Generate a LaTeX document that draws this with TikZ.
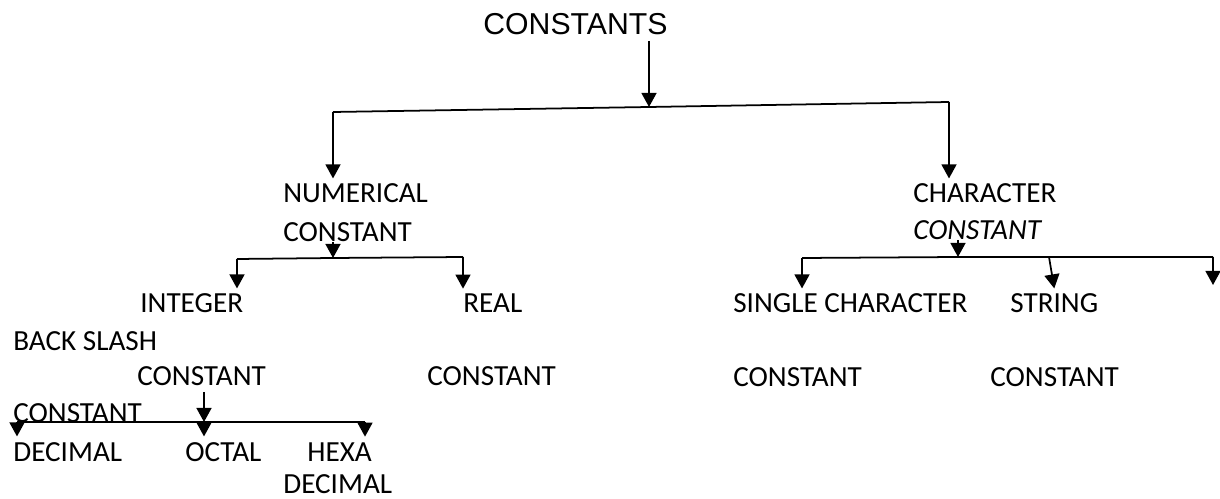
\documentclass[tikz,border=0pt]{standalone}
\usepackage{fontspec}
\setmainfont{Carlito}
\newfontfamily\titlefont{Liberation Sans}
\usepackage{tikz}
\usetikzlibrary{arrows.meta,calc}

\begin{document}
\begin{tikzpicture}[x=0.02cm,y=-0.02cm,
  txt/.style={anchor=base west,inner xsep=0pt,inner ysep=3pt,font=\fontsize{16.6}{20}\selectfont},
  link/.style={line width=1pt},
  arr/.style={line width=1pt,-{Triangle[length=8pt,width=8.5pt]}}]
\useasboundingbox (0,0) rectangle (1220,499);
% labels
\node[txt,font=\titlefont\fontsize{17.2}{20}\selectfont] (top) at (483,35) {CONSTANTS};
\node[txt] (num1) at (283,203) {NUMERICAL};
\node[txt] (num2) at (283,242) {CONSTANT};
\node[txt] (chr1) at (913,203) {CHARACTER};
\node[txt] (chr2) at (913,240) {\itshape CONSTANT};
\node[txt] (int1) at (140,313) {INTEGER};
\node[txt] (int2) at (137,386) {CONSTANT};
\node[txt] (real1) at (463,313) {REAL};
\node[txt] (real2) at (427,386) {CONSTANT};
\node[txt] (sgl1) at (733,313) {SINGLE CHARACTER};
\node[txt] (sgl2) at (733,387) {CONSTANT};
\node[txt] (str1) at (1010,313) {STRING};
\node[txt] (str2) at (990,387) {CONSTANT};
\node[txt] (bs1) at (13,351) {BACK SLASH};
\node[txt] (bs2) at (13,423) {CONSTANT};
\node[txt] (dec) at (13,461) {DECIMAL};
\node[txt] (oct) at (185,461) {OCTAL};
\node[txt] (hex1) at (307,461) {HEXA};
\node[txt,inner ysep=0pt] (hex2) at (283,494) {DECIMAL};
% junctions
\coordinate (jTop) at (649,107);
\coordinate (jL) at (333,112);
\coordinate (jR) at (949,102);
\coordinate (jN) at (333,258);
\coordinate (jNL) at (237,259);
\coordinate (jNR) at (463,257);
\coordinate (jC) at (958,257);
\coordinate (jCL) at (802,258);
\coordinate (jCM) at (1049,257);
\coordinate (jCR) at (1213,257);
\coordinate (eCR) at (1213,285);
\coordinate (jI) at (204,422);
\coordinate (jIL) at (17,422);
\coordinate (jIR) at (365,422);
% top level
\draw[arr] (top.south -| jTop) -- (jTop);
\draw[link] (jL) -- (jTop) -- (jR);
\draw[arr] (jL) -- (jL |- num1.north);
\draw[arr] (jR) -- (jR |- chr1.north);
% numerical branch
\draw[arr] (num2.base -| jN) -- (jN);
\draw[link] (jNL) -- (jN) -- (jNR);
\draw[arr] (jNL) -- (jNL |- int1.north);
\draw[arr] (jNR) -- (jNR |- real1.north);
% character branch
\draw[arr] (chr2.base -| jC) -- (jC);
\draw[link] (jCL) -- (jC) -- (jCR);
\draw[arr] (jCL) -- (jCL |- sgl1.north);
\draw[arr] (jCM) -- (str1.north);
\draw[arr] (jCR) -- (eCR);
% integer branch
\draw[arr] (int2.south -| jI) -- (jI);
\draw[link] (jIL) -- (jIR);
\foreach \j/\n in {jIL/dec,jI/oct,jIR/hex1}
  \draw[arr] (\j) -- (\j |- \n.north);
\end{tikzpicture}
\end{document}
